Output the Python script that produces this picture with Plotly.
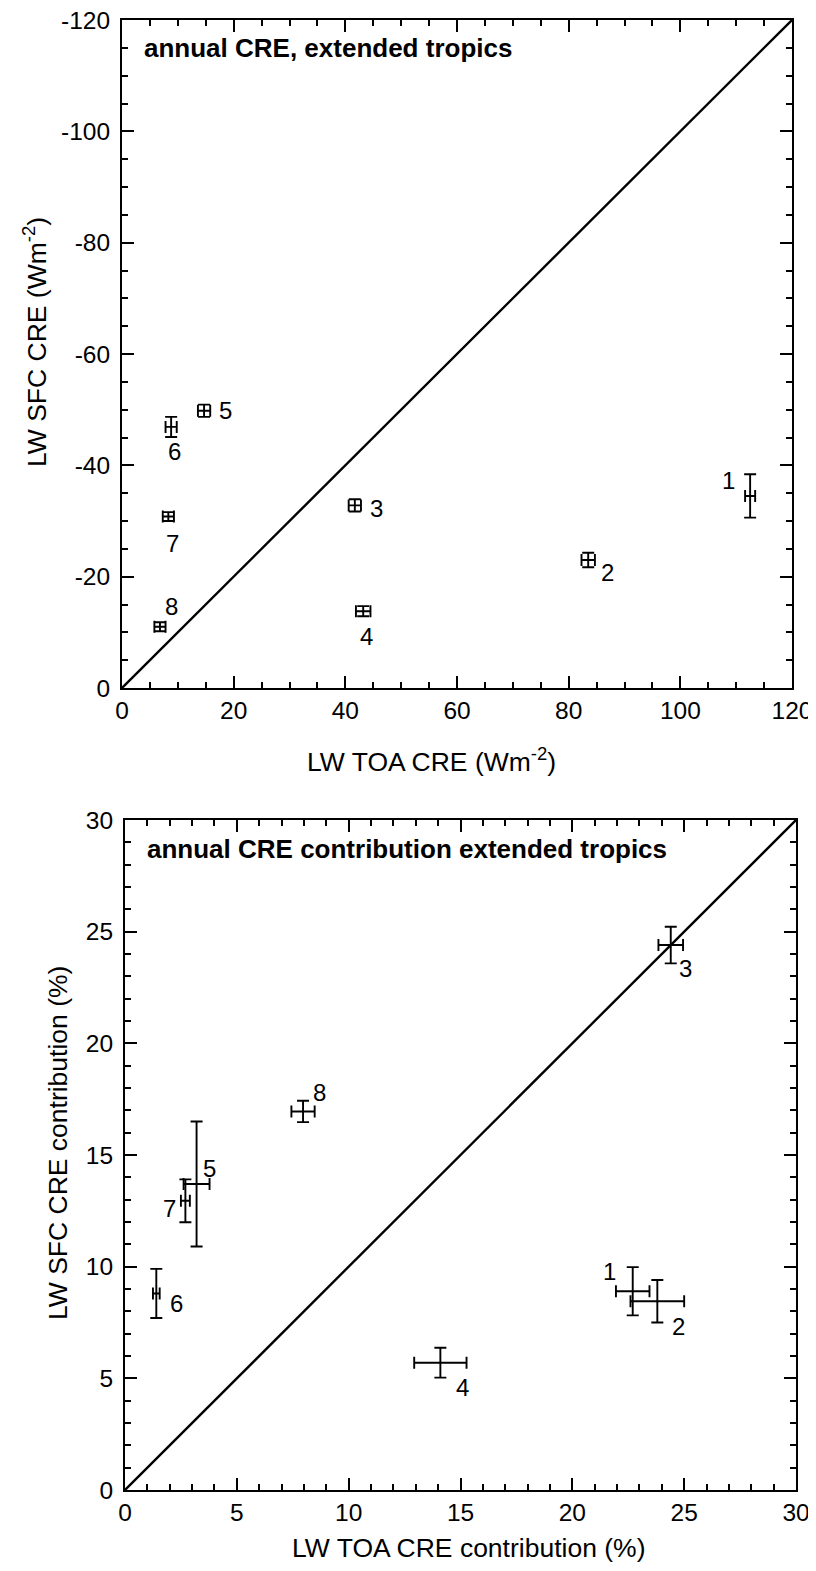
import plotly.graph_objects as go

# ---------------- data ----------------
labels = ["1", "2", "3", "4", "5", "6", "7", "8"]

# top panel: annual CRE, extended tropics (W m-2)
toa_cre = [112.5, 83.5, 41.7, 43.2, 14.7, 8.8, 8.3, 6.8]
toa_cre_err = [0.9, 1.2, 1.1, 1.3, 1.1, 1.0, 1.0, 1.0]
sfc_cre = [-34.5, -23.0, -32.8, -13.8, -49.8, -46.9, -30.8, -11.0]
sfc_cre_err = [3.9, 1.3, 1.1, 0.9, 1.1, 1.8, 0.8, 0.8]

# bottom panel: contribution (%)
toa_pct = [22.7, 23.8, 24.4, 14.1, 3.2, 1.4, 2.7, 7.96]
toa_pct_err = [0.75, 1.2, 0.55, 1.17, 0.58, 0.15, 0.2, 0.52]
sfc_pct = [8.9, 8.45, 24.4, 5.7, 13.7, 8.8, 12.95, 16.95]
sfc_pct_err = [1.08, 0.95, 0.82, 0.67, 2.8, 1.1, 0.96, 0.48]

top_x_ticks = [0, 20, 40, 60, 80, 100, 120]
top_y_ticks = [0, -20, -40, -60, -80, -100, -120]
top_y_ticktext = ["0", "-20", "-40", "-60", "-80", "-100", "-120"]
bot_ticks = [0, 5, 10, 15, 20, 25, 30]

# label offsets (px) -- styling
top_off = [(-22, 15), (19, -13), (22, -3), (3, -25), (21, 0), (3, -25), (4, -27), (12, 20)]
bot_off = [(-23, 20), (21, -25), (15, -23), (22, -25), (13, 16), (20, -10), (-16, -8), (16, 19)]

FONT = "Liberation Sans, Arial, sans-serif"
OFF = 8  # default page body margin of the html page
W, H = 816 - OFF, 1571 - 2 * OFF
TICK_FS = 24.5
TITLE_FS = 26.5
LAB_FS = 24


def px(p):
    return (p - OFF) / W


def py(p):
    return 1 - (p - OFF) / H


fig = go.Figure()


def add_points(xs, xe, ys, ye, xa, ya, cap):
    for i in range(len(xs)):
        fig.add_trace(go.Scatter(
            x=[xs[i]], y=[ys[i]], mode="markers",
            marker=dict(size=4, color="rgba(0,0,0,0)"),
            error_x=dict(type="data", array=[xe[i]], width=cap, thickness=1.9, color="black"),
            error_y=dict(type="data", array=[ye[i]], width=cap, thickness=1.9, color="black"),
            xaxis=xa, yaxis=ya, showlegend=False, hoverinfo="skip"))


add_points(toa_cre, toa_cre_err, sfc_cre, sfc_cre_err, "x", "y", 6)
add_points(toa_pct, toa_pct_err, sfc_pct, sfc_pct_err, "x2", "y2", 6)

# 1:1 lines
fig.add_trace(go.Scatter(x=[top_x_ticks[0], top_x_ticks[-1]], y=[top_y_ticks[0], top_y_ticks[-1]],
                         mode="lines", line=dict(color="black", width=2.4),
                         xaxis="x", yaxis="y", showlegend=False, hoverinfo="skip"))
fig.add_trace(go.Scatter(x=[bot_ticks[0], bot_ticks[-1]], y=[bot_ticks[0], bot_ticks[-1]],
                         mode="lines", line=dict(color="black", width=2.4),
                         xaxis="x2", yaxis="y2", showlegend=False, hoverinfo="skip"))

ann = []
for i, lab in enumerate(labels):
    ann.append(dict(x=toa_cre[i], y=sfc_cre[i], xref="x", yref="y", text=lab, showarrow=False,
                    xshift=top_off[i][0], yshift=top_off[i][1], font=dict(size=LAB_FS, color="black", family=FONT)))
    ann.append(dict(x=toa_pct[i], y=sfc_pct[i], xref="x2", yref="y2", text=lab, showarrow=False,
                    xshift=bot_off[i][0], yshift=bot_off[i][1], font=dict(size=LAB_FS, color="black", family=FONT)))

ann.append(dict(x=20 / 670, y=1 - 28 / 668, xref="x domain", yref="y domain",
                text="<b>annual CRE, extended tropics</b>", showarrow=False,
                xanchor="left", yanchor="middle", font=dict(size=26, color="black", family=FONT)))
ann.append(dict(x=20 / 671, y=1 - 29 / 670, xref="x2 domain", yref="y2 domain",
                text="<b>annual CRE contribution extended tropics</b>", showarrow=False,
                xanchor="left", yanchor="middle", font=dict(size=26, color="black", family=FONT)))

# axis titles as annotations (placed like the reference)
title_font = dict(size=TITLE_FS, color="black", family=FONT)
ann.append(dict(x=px(431), y=py(760), xref="paper", yref="paper", showarrow=False,
                text="LW TOA CRE (Wm<sup>-2</sup>)", xanchor="center", yanchor="middle", font=title_font))
ann.append(dict(x=px(35), y=py(342), xref="paper", yref="paper", showarrow=False, textangle=-90,
                text="LW SFC CRE (Wm<sup>-2</sup>)", xanchor="center", yanchor="middle", font=title_font))
ann.append(dict(x=px(469), y=py(1548), xref="paper", yref="paper", showarrow=False,
                text="LW TOA CRE contribution (%)", xanchor="center", yanchor="middle", font=title_font))
ann.append(dict(x=px(58), y=py(1143), xref="paper", yref="paper", showarrow=False, textangle=-90,
                text="LW SFC CRE contribution (%)", xanchor="center", yanchor="middle", font=title_font))


def ax_common():
    return dict(showgrid=False, zeroline=False, showline=True, linecolor="black", linewidth=2,
                mirror="ticks", ticks="inside", ticklen=12, tickwidth=1.8, tickcolor="black",
                automargin=False, ticklabeloverflow="allow",
                tickfont=dict(size=TICK_FS, color="black", family=FONT))


minor_common = dict(ticks="inside", ticklen=6, tickwidth=1.5, tickcolor="black")

xa = ax_common()
xa.update(domain=[px(122), px(792)], range=[0, 120], tickvals=top_x_ticks, anchor="y",
          minor=dict(dtick=5, **minor_common))
ya = ax_common()
ya.update(domain=[py(688), py(20)], range=[0, -120], tickvals=top_y_ticks, ticktext=top_y_ticktext,
          anchor="x", ticklabelstandoff=5,
          minor=dict(dtick=5, **minor_common))
xa2 = ax_common()
xa2.update(domain=[px(125), px(796)], range=[0, 30], tickvals=bot_ticks, anchor="y2",
           minor=dict(dtick=1, **minor_common))
ya2 = ax_common()
ya2.update(domain=[py(1490), py(820)], range=[0, 30], tickvals=bot_ticks, anchor="x2", ticklabelstandoff=5,
           minor=dict(dtick=1, **minor_common))

fig.update_layout(width=W, height=H, margin=dict(l=0, r=0, t=0, b=0),
                  paper_bgcolor="white", plot_bgcolor="white",
                  xaxis=xa, yaxis=ya, xaxis2=xa2, yaxis2=ya2, annotations=ann,
                  font=dict(family=FONT, color="black"))

fig.write_html("out.html")
